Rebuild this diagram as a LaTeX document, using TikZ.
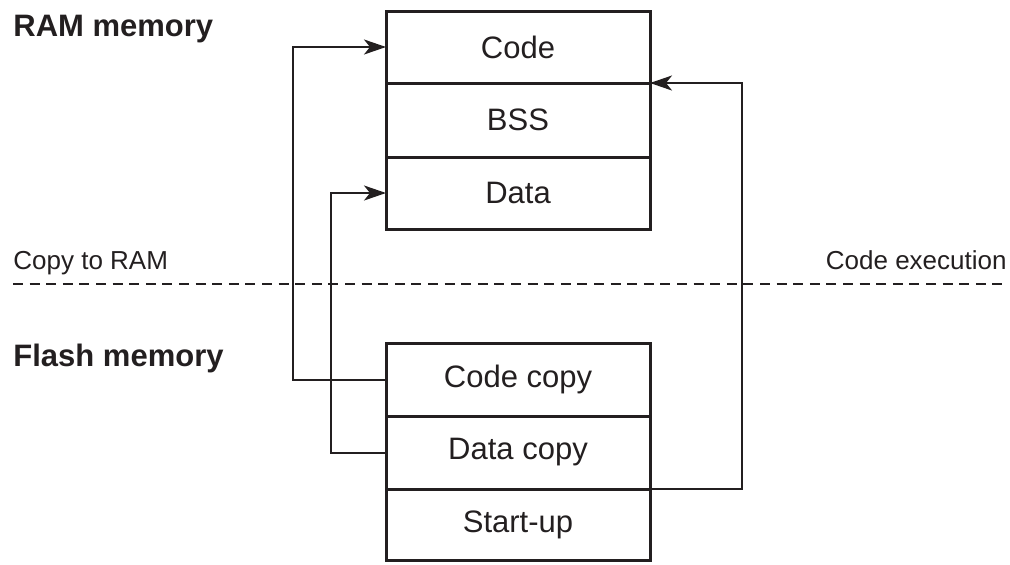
\documentclass[tikz,border=0pt]{standalone}
\usepackage{fontspec}
\setmainfont{Liberation Sans}
\usetikzlibrary{arrows.meta}
\definecolor{ink}{RGB}{35,31,32}
\newcommand{\bx}{\fontsize{15.5pt}{18pt}\selectfont}
\newcommand{\sm}{\fontsize{13pt}{15pt}\selectfont}

\begin{document}
\begin{tikzpicture}[x=0.5pt,y=-0.5pt,
   seg/.style={draw=ink,line width=1.5pt,minimum width=132pt,inner sep=0pt,
      outer sep=0pt,font=\bx,text=ink},
   link/.style={draw=ink,line width=1pt},
   tip/.style={-{Stealth[length=11pt,width=7.5pt,inset=3pt]}},
   title/.style={anchor=base west,inner sep=0pt,font=\bx\bfseries,text=ink},
   side/.style={inner sep=0pt,font=\sm,text=ink}]
   \useasboundingbox (0,0) rectangle (1010,564);
   % RAM side
   \node[seg,minimum height=36pt] (code)     at (518, 47)  {Code};
   \node[seg,minimum height=37pt] (bss)      at (518,120)  {BSS};
   \node[seg,minimum height=36pt] (data)     at (518,193)  {Data};
   % flash side
   \node[seg,minimum height=36.5pt] (codecopy) at (518,379.5) {Code copy};
   \node[seg,minimum height=36.5pt] (datacopy) at (518,452.5) {Data copy};
   \node[seg,minimum height=35.5pt] (startup)  at (518,524.5) {Start-up};
   % titles
   \node[title] (ram)   at (13, 36) {RAM memory};
   \node[title] (flash) at (13,366) {Flash memory};
   % divider
   \coordinate (divl) at (13,284);
   \coordinate (divr) at (1007,284);
   \draw[link,dash pattern=on 5pt off 3.3pt] (divl) -- (divr);
   \node[side,anchor=base west] (copyram) at (13,269)   {Copy to RAM};
   \node[side,anchor=base east] (exec)    at (1007,269) {Code execution};
   % connectors
   \draw[link,tip] (codecopy.west) -- ++(-93,0) |- (code.west);
   \draw[link,tip] (datacopy.west) -- ++(-55,0) |- (data.west);
   \draw[link,tip] (datacopy.south east) -- ++(92,0) |- (code.south east);
\end{tikzpicture}
\end{document}
